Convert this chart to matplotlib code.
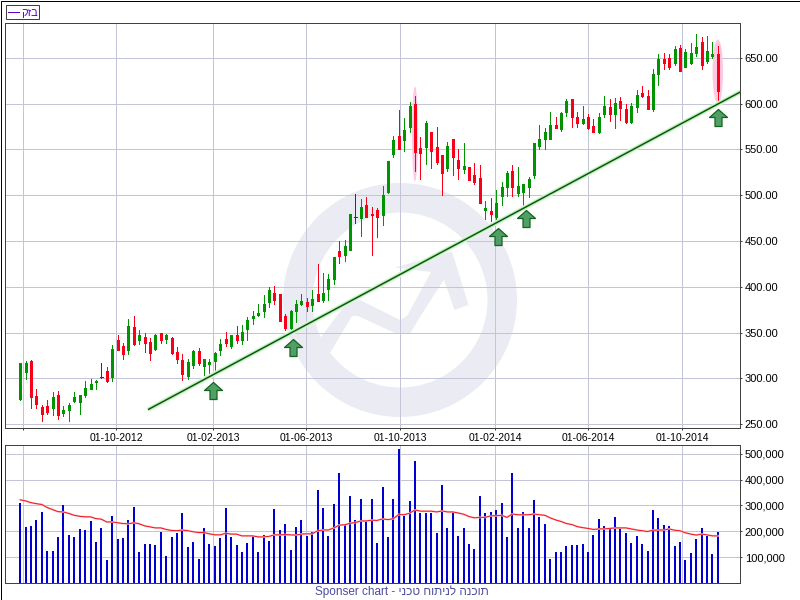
# Bezeq weekly candles with volume panel

import matplotlib
matplotlib.use("Agg")
import matplotlib.pyplot as plt
from matplotlib.patches import Ellipse, Polygon, Rectangle, Wedge
from matplotlib.path import Path
from matplotlib.ticker import FuncFormatter
from matplotlib.transforms import Affine2D

plt.rcParams['font.family'] = ['Liberation Sans', 'DejaVu Sans']

OPENS = [277, 307, 319.3, 280.7, 268.7, 270, 267, 281.8, 262.5, 265.4,
         275, 274.5, 281.8, 288.7, 296, 301.8, 308, 301.5, 342, 335,
         331, 355.7, 342, 345, 339.7, 331.7, 349.5, 343, 344, 328.4,
         320, 302.6, 314.6, 330, 313.5, 315.7, 319, 331, 343, 335,
         347, 342, 354, 366, 369, 373, 383, 393.4, 391.6, 367.6,
         354.5, 373.4, 380.7, 383, 380, 391.6, 386, 397, 408, 438.6,
         435, 439.7, 476.5, 474.7, 489, 480, 483.4, 478, 504, 544.6,
         564.3, 560, 575, 599.3, 551.2, 552.3, 568.7, 552.3, 543.5, 529.7,
         561, 539, 528.2, 530.4, 521.7, 518.4, 483.4, 482.3, 475.8, 498.7,
         508.6, 526, 502, 503.5, 509, 521.7, 553.4, 561, 562, 576.3,
         572, 590.5, 604.7, 586, 578.5, 585, 575.2, 568.7, 588.3, 596,
         588.3, 602.5, 593.8, 579.6, 596, 611.3, 609, 593.8, 632, 648.5,
         649.5, 645, 660.5, 639.7, 645, 655, 668, 646.3, 651.7, 653.9]
CLOSES = [316.8, 317, 280, 272, 261.4, 263, 279.6, 260, 265, 271,
          279.6, 281.8, 289.4, 293.4, 297, 301.8, 297, 332, 331, 327,
          357, 337.5, 347, 338.6, 328, 347, 342, 347, 327.7, 321,
          304.7, 317.8, 330, 316.8, 321, 317.8, 327.7, 337.5, 338.6, 347,
          342, 350.6, 363.4, 367.8, 371.4, 381, 396, 386, 363, 354.5,
          374, 380.7, 384, 378.5, 386.9, 384.3, 392.7, 409, 433, 434,
          445, 479, 476.5, 486.7, 475.8, 478, 475.8, 499.8, 537, 560,
          551, 570.9, 597, 546.8, 545.7, 578.5, 547.9, 535.9, 523.9, 553.4,
          541.3, 529.3, 531.5, 516.2, 514, 491, 485.6, 479, 491, 508.6,
          523.9, 508.6, 509.7, 511.8, 517.3, 556.6, 562, 568.7, 576.3, 574,
          589.4, 602.5, 586, 578.5, 582.9, 573, 568.7, 585, 598, 588.3,
          600.4, 595, 579.6, 598, 610, 608, 593.8, 632, 648.5, 645,
          639.7, 659.4, 635.3, 657, 656, 661.6, 641.9, 658, 653.9, 613.5]
HIGHS = [316.8, 319, 319.7, 288, 271, 276, 285, 286, 270, 272.7,
         285, 281.8, 297, 299, 297.8, 316.8, 312.4, 336, 347, 338,
         364.5, 367.8, 352.5, 349, 343.7, 348.8, 350, 348, 344.8, 334,
         326, 320.8, 331, 333, 321, 321, 328.8, 342.6, 350.6, 347,
         357, 358, 366.7, 373, 381, 390.5, 400, 401, 392.3, 370,
         375, 385, 391.6, 388, 396, 424.4, 415, 413.5, 433, 449.5,
         450.6, 479, 501, 495.4, 497.6, 486.7, 485.6, 509.6, 537, 564.3,
         592.7, 584, 601.5, 608, 563.2, 580.7, 568.7, 575, 543.5, 557.7,
         561, 550, 556.6, 530.4, 534.8, 532.6, 493.3, 496.5, 505.3, 515,
         527, 532.6, 530.4, 511.8, 519.5, 556.6, 576.3, 573.4, 590.5, 586,
         591, 604.7, 605.5, 590.5, 598, 588.3, 582.9, 589.4, 609, 604.7,
         605.8, 607, 599.3, 600.4, 614.6, 619, 614.6, 637.5, 654, 656,
         654, 662.7, 663.8, 659.4, 666, 675.8, 672.5, 673.6, 667, 662.7]
LOWS = [276, 299.6, 267, 267.6, 253.7, 260.6, 260, 256, 259, 253.7,
        274.5, 261.4, 279, 288, 288, 300, 296.4, 297, 331, 321,
        327, 336.8, 337, 329, 320, 330.6, 338.6, 338.6, 326.6, 317,
        298.5, 299, 311, 314.6, 303.6, 302, 307, 325.5, 335.7, 333,
        339, 337, 342, 359, 368, 366.5, 377.8, 381.4, 363, 352.6,
        348.6, 361.4, 379.6, 373.4, 374, 384.3, 383, 386, 402.5, 425.5,
        427.7, 439.7, 470, 456, 475.8, 435, 454, 468, 502, 541.3,
        551, 548, 568.7, 526, 517.3, 533.7, 530, 533.7, 499.8, 527,
        521.7, 517.3, 523.9, 516.2, 511.8, 491, 473.6, 471.4, 471.4, 489,
        498.7, 498.7, 498.7, 489, 498, 518.8, 550, 551, 561, 573.4,
        570, 587, 575, 575, 577.4, 572, 568.7, 567.6, 585, 580.7,
        573, 581.8, 578.5, 579.2, 590.5, 607, 593.8, 591.6, 620, 637.5,
        637.5, 642, 635.3, 639.7, 643, 651.7, 637.5, 645, 649.5, 600]

# volume, in thousands
VOLUME = [311, 218, 222, 242, 276, 125, 125, 176, 300, 187,
          176, 207, 203, 238, 160, 214, 90, 261, 168, 172,
          245, 296, 118, 149, 152, 145, 199, 102, 176, 195,
          269, 137, 160, 94, 211, 149, 141, 172, 292, 176,
          145, 121, 156, 183, 121, 187, 164, 288, 203, 230,
          129, 218, 245, 180, 199, 362, 292, 180, 304, 428,
          230, 335, 245, 327, 245, 327, 156, 370, 176, 327,
          520, 261, 319, 474, 269, 269, 269, 195, 381, 211,
          276, 183, 214, 152, 133, 338, 269, 276, 284, 311,
          176, 428, 214, 273, 214, 323, 257, 230, 94, 121,
          118, 141, 145, 145, 149, 121, 187, 249, 222, 214,
          257, 214, 195, 156, 180, 149, 125, 284, 253, 226,
          222, 141, 160, 90, 114, 168, 211, 180, 110, 199]
VOLUME_AVG = [322, 318, 311, 307, 304, 292, 284, 276, 275, 269,
              262, 258, 256, 256, 249, 247, 236, 236, 233, 230,
              229, 233, 229, 221, 217, 213, 213, 207, 203, 202,
              205, 202, 198, 195, 195, 190, 186, 186, 192, 189,
              189, 182, 182, 182, 178, 178, 180, 186, 186, 187,
              186, 185, 189, 190, 190, 202, 205, 205, 213, 224,
              225, 231, 234, 240, 240, 243, 242, 248, 245, 249,
              265, 264, 270, 283, 278, 278, 278, 275, 279, 275,
              275, 271, 266, 257, 252, 254, 254, 260, 260, 262,
              254, 267, 264, 264, 264, 267, 264, 262, 252, 244,
              238, 230, 226, 218, 214, 211, 207, 209, 209, 211,
              213, 213, 213, 209, 205, 202, 199, 204, 205, 205,
              209, 204, 202, 194, 189, 185, 189, 186, 182, 182]

DATE_POS = [0.55, 17.75, 35.69, 52.88, 70.27, 87.83, 105.03, 122.41]
DATE_LABELS = ['', '01-10-2012', '01-02-2013', '01-06-2013', '01-10-2013',
               '01-02-2014', '01-06-2014', '01-10-2014']
PRICE_TICKS = [250, 300, 350, 400, 450, 500, 550, 600, 650]
VOLUME_TICKS = [100, 200, 300, 400, 500]

TREND_X = [23.63, 133.2]
TREND_Y = [265.7, 613]
ARROW_X = [35.73, 50.4, 88.3, 93.5, 129.0]
ARROW_TIP = [295.5, 342.5, 463.8, 483.5, 594.6]
# highlighted candles: index, lowest, highest
MARK_X = [73, 129]
MARK_LOW = [515.4, 600.3]
MARK_HIGH = [618.9, 670.3]
MARK_W = [1.1, 1.95]

LEGEND = 'בזק'
FOOTER = 'תוכנה לניתוח טכני'

GREEN = '#009400'
RED = '#fa0018'
PURPLE = '#6600cc'
GRID = '#c4c4d8'
SPINE = '#404040'
WATER = '#ebebf4'
LW1 = 0.72  # one pixel

fig = plt.figure(figsize=(8, 6), dpi=100, facecolor='white')
# pixel coordinates of the picture, y going down
px = Affine2D().scale(1 / 800, -1 / 600).translate(0, 1) + fig.transFigure

ax = fig.add_axes([5 / 800, 172 / 600, 735 / 800, 405 / 600])
vol = fig.add_axes([5 / 800, 17 / 600, 735 / 800, 138 / 600])

for a in (ax, vol):
    a.set_xlim(-2.81, 133.1)
    a.set_axisbelow(True)
    a.grid(True, color=GRID, lw=LW1)
    a.yaxis.tick_right()
    a.set_xticks(DATE_POS)
    for s in a.spines.values():
        s.set_color(SPINE)
        s.set_linewidth(LW1)

ax.set_ylim(245.63, 688.25)
ax.set_xticklabels(DATE_LABELS, fontsize=7.5)
ax.set_yticks(PRICE_TICKS)
ax.set_yticklabels(['%.2f' % v for v in PRICE_TICKS], fontsize=8)
ax.tick_params(length=1.5, width=LW1, color=SPINE, pad=2)

vol.set_ylim(-0.97, 534.95)
vol.set_xticklabels([])
vol.set_yticks(VOLUME_TICKS)
vol.yaxis.set_major_formatter(FuncFormatter(lambda v, p: '{:,.0f}'.format(v * 1000)))
vol.tick_params(axis='y', length=1.5, width=LW1, color=SPINE, pad=2, labelsize=8)
vol.tick_params(axis='x', length=0)

# watermark: ring and rising arrow
ax.add_patch(Wedge((400, 300), 117, 0, 360, width=29.5, color=WATER, lw=0,
                   transform=px, zorder=0))
zig = [(320, 338.5), (348, 301), (360, 300), (400, 320), (407, 316), (431, 272),
       (395, 267.5), (452, 251.5), (468.5, 305), (454.5, 310), (444, 279.5),
       (418, 320), (410, 334), (397, 334), (358, 316), (352, 316), (330, 353)]
ax.add_patch(Polygon(zig, closed=True, color=WATER, lw=0, transform=px, zorder=0))

# pink highlight behind the big down weeks
for x, lo, hi, w in zip(MARK_X, MARK_LOW, MARK_HIGH, MARK_W):
    ax.add_patch(Ellipse((x, (lo + hi) / 2), w, hi - lo, color='#fdc8e0', lw=0, zorder=2))

# candles, wick and body as thick lines so both snap on the same pixel
xs = list(range(len(CLOSES)))
for i in xs:
    o, c = OPENS[i], CLOSES[i]
    color = GREEN if c > o else (RED if c < o else PURPLE)
    ax.plot([i, i], [LOWS[i], HIGHS[i]], color=color, lw=LW1, zorder=3,
            solid_capstyle='butt', antialiased=False)
    if c == o:
        ax.plot([i - 0.3, i + 0.3], [c, c], color=color, lw=LW1, zorder=3, antialiased=False)
    else:
        ax.plot([i, i], [o, c], color=color, lw=3 * LW1, zorder=3, solid_capstyle='butt',
                antialiased=False)

# trend line with a soft glow
ax.plot(TREND_X, TREND_Y, color='#e4f9e4', lw=3.6, zorder=4, solid_capstyle='butt')
ax.plot(TREND_X, TREND_Y, color='#b0eeb0', lw=2.4, zorder=4, solid_capstyle='butt')
ax.plot(TREND_X, TREND_Y, color='#0c4c0c', lw=1.0, zorder=4, solid_capstyle='butt')

# support arrows, vertices relative to the tip
arrow = Path([(0, 0), (9, -8), (3.5, -8), (3.5, -17), (-3.5, -17), (-3.5, -8), (-9, -8), (0, 0)],
             closed=True)
ax.plot(ARROW_X, ARROW_TIP, ls='none', marker=arrow, ms=24.5, mfc='#4f9f67', mec='#14641e',
        mew=0.9, zorder=5)

# volume bars and average
for i in xs:
    vol.plot([i, i], [0, VOLUME[i]], color='#0000d2', lw=2 * LW1, zorder=3,
             solid_capstyle='butt', antialiased=False)
vol.plot(xs, VOLUME_AVG, color='#ffc4c4', lw=1.4, zorder=4)
vol.plot(xs, VOLUME_AVG, color='#f01020', lw=0.7, zorder=4)

# legend box
fig.add_artist(Rectangle((5.5, 4.5), 33, 14, fc='white', ec=SPINE, lw=LW1, transform=px))
fig.add_artist(plt.Line2D([8, 19], [11.5, 11.5], color=PURPLE, lw=LW1, transform=px))
fig.text(21 / 800, 1 - 12.5 / 600, LEGEND[::-1], color=PURPLE, fontsize=8, ha='left', va='center')

# footer, hebrew part reversed since matplotlib has no bidi
fig.text(402 / 800, 1 - 591.5 / 600, 'Sponser chart - ' + FOOTER[::-1], color='#4c4ca0',
         fontsize=8.5, ha='center', va='center')

# outer frame
fig.add_artist(Rectangle((0.5, 0.5), 799, 599, fc='none', ec='black', lw=LW1, transform=px))

fig.savefig('out.png', dpi=100)
